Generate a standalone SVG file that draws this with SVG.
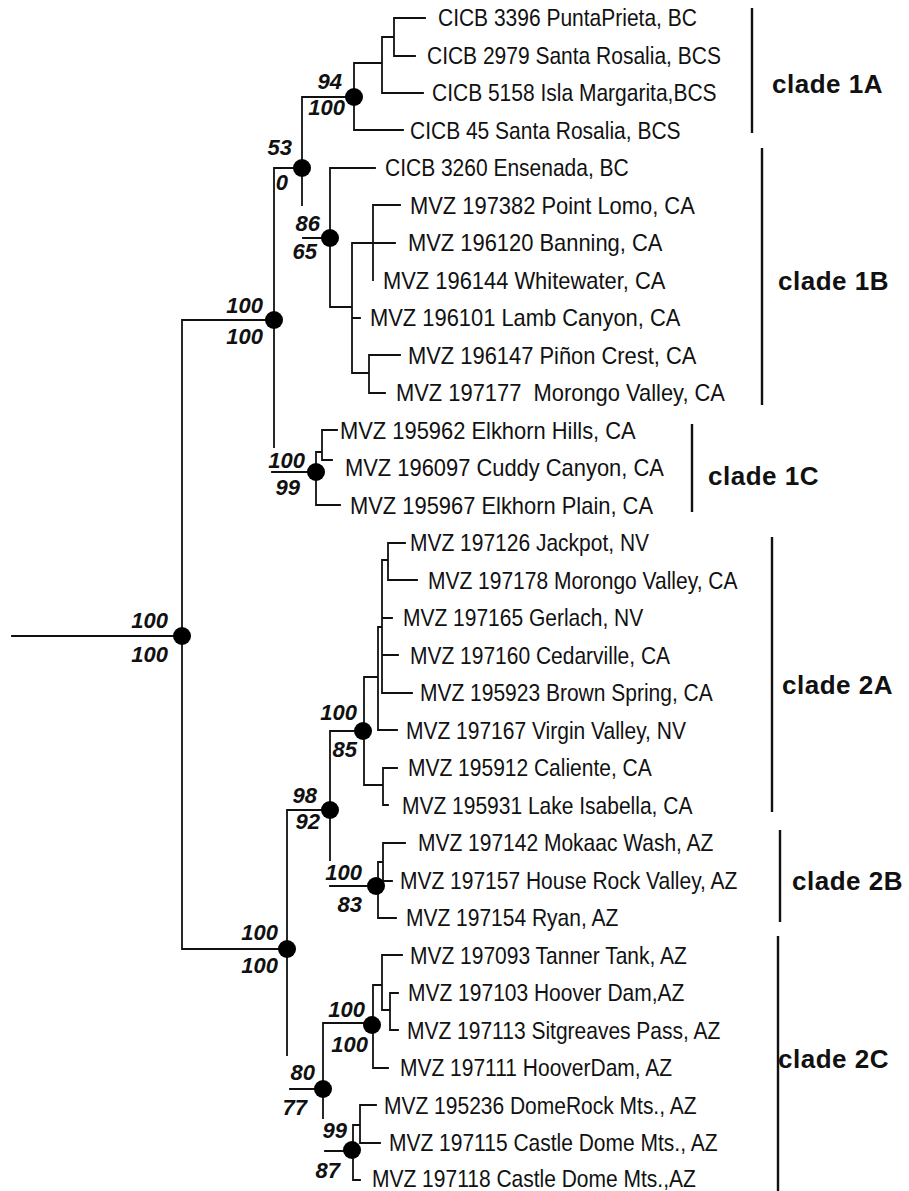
<svg xmlns="http://www.w3.org/2000/svg" width="909" height="1191" viewBox="0 0 909 1191">
<style>
.br{fill:none;stroke:#111;stroke-width:1.8;stroke-linecap:square}
.bar{stroke:#111;stroke-width:2.4}
.tx{font-family:"Liberation Sans",Arial,sans-serif;font-size:24px;fill:#111}
.bs{font-family:"Liberation Sans",Arial,sans-serif;font-size:22px;font-weight:bold;font-style:italic;fill:#111;text-anchor:end}
.cl{font-family:"Liberation Sans",Arial,sans-serif;font-size:26px;font-weight:bold;letter-spacing:0.5px;fill:#111}
.dot{fill:#000}
</style>
<rect width="909" height="1191" fill="#fff"/>
<g id="connectors">
<path class="br" d="M12 636H182 M182 320V949 M182 320H274 M182 949H287
M274 168V447 M274 168H302 M272 472H316
M302 97V205 M302 97H354
M354 63V130 M354 130H403 M354 63H382 M382 37V93 M382 93H423 M382 37H394 M394 18V56 M394 18H425 M394 56H415
M303 238H330 M330 168V307 M330 168H375 M330 307H352 M352 243V373 M352 243H395 M373 205V280 M373 205H400 M352 318H360 M352 373H369 M369 355V393 M369 355H400 M369 393H385
M316 452V505 M316 452H322 M322 430V460 M322 430H337 M322 460H332 M316 505H340
M287 810V1055 M288 810H330
M330 731V860 M330 731H363 M330 886H376
M364 677V785 M364 677H378 M378 627V730 M378 730H397 M378 627H382 M382 560V693 M382 560H388 M382 618H392 M382 655H398 M382 693H412 M388 543V580 M388 543H405 M388 580H417 M364 785H383 M383 768V805 M383 768H397 M383 805H388
M378 862V918 M378 862H383 M383 843V881 M383 843H405 M383 881H392 M378 918H396
M290 1089H323 M323 1023V1118 M323 1023H372
M373 985V1068 M373 1068H388 M373 985H382 M382 955V1010 M382 955H402 M382 1010H390 M390 993V1030 M390 993H398 M390 1030H398
M325 1151H352 M353 1125V1180 M353 1180H360 M353 1125H360 M360 1105V1143 M360 1105H376 M360 1143H380"/>
<path class="bar" d="M752 8V133 M762 148V405 M692 424V512 M772 537V812 M780 830V922 M778 936V1191"/>
</g>
<g id="n-root"><circle class="dot" cx="182" cy="636" r="9"/><text class="bs" x="168" y="628">100</text><text class="bs" x="168" y="662">100</text></g>
<g id="n-clade1"><circle class="dot" cx="274" cy="320" r="9"/><text class="bs" x="263" y="313">100</text><text class="bs" x="263" y="344">100</text></g>
<g id="n-clade2"><circle class="dot" cx="287" cy="949" r="9"/><text class="bs" x="278" y="940">100</text><text class="bs" x="278" y="973">100</text></g>
<g id="n-53"><circle class="dot" cx="302" cy="168" r="9"/><text class="bs" x="292" y="155">53</text><text class="bs" x="288" y="190">0</text></g>
<g id="n-1A"><circle class="dot" cx="354" cy="97" r="9"/><text class="bs" x="342" y="89">94</text><text class="bs" x="345" y="115">100</text></g>
<g id="n-1B"><circle class="dot" cx="330" cy="238" r="9"/><text class="bs" x="320" y="231">86</text><text class="bs" x="317" y="259">65</text></g>
<g id="n-1C"><circle class="dot" cx="316" cy="472" r="9"/><text class="bs" x="305" y="468">100</text><text class="bs" x="300" y="495">99</text></g>
<g id="n-98"><circle class="dot" cx="330" cy="810" r="9"/><text class="bs" x="317" y="803">98</text><text class="bs" x="320" y="829">92</text></g>
<g id="n-2A"><circle class="dot" cx="363" cy="731" r="9"/><text class="bs" x="357" y="720">100</text><text class="bs" x="357" y="757">85</text></g>
<g id="n-2B"><circle class="dot" cx="376" cy="886" r="9"/><text class="bs" x="362" y="880">100</text><text class="bs" x="362" y="912">83</text></g>
<g id="n-2C"><circle class="dot" cx="323" cy="1089" r="9"/><text class="bs" x="315" y="1080">80</text><text class="bs" x="307" y="1115">77</text></g>
<g id="n-2C1"><circle class="dot" cx="372" cy="1025" r="9"/><text class="bs" x="365" y="1017">100</text><text class="bs" x="368" y="1052">100</text></g>
<g id="n-2C2"><circle class="dot" cx="352" cy="1150" r="9"/><text class="bs" x="347" y="1138">99</text><text class="bs" x="340" y="1178">87</text></g>
<g id="leaves-cicb" transform="scale(0.875 1)">
<text class="tx" x="500.57" y="26.5">CICB 3396 PuntaPrieta, BC</text>
<text class="tx" x="488" y="64">CICB 2979 Santa Rosalia, BCS</text>
<text class="tx" x="493.71" y="101.5">CICB 5158 Isla Margarita,BCS</text>
<text class="tx" x="468.57" y="139">CICB 45 Santa Rosalia, BCS</text>
<text class="tx" x="440" y="176.5">CICB 3260 Ensenada, BC</text>
</g>
<g id="leaves-1B1C" transform="scale(0.9125 1)">
<text class="tx" x="449.32" y="214">MVZ 197382 Point Lomo, CA</text>
<text class="tx" x="447.12" y="251.5">MVZ 196120 Banning, CA</text>
<text class="tx" x="419.73" y="289">MVZ 196144 Whitewater, CA</text>
<text class="tx" x="405.48" y="326.5">MVZ 196101 Lamb Canyon, CA</text>
<text class="tx" x="447.12" y="364">MVZ 196147 Piñon Crest, CA</text>
<text class="tx" x="433.97" y="401.5">MVZ 197177 &#160;Morongo Valley, CA</text>
<text class="tx" x="372.6" y="439">MVZ 195962 Elkhorn Hills, CA</text>
<text class="tx" x="378.08" y="476.5">MVZ 196097 Cuddy Canyon, CA</text>
<text class="tx" x="383.56" y="514">MVZ 195967 Elkhorn Plain, CA</text>
</g>
<g id="leaves-2" transform="scale(0.875 1)">
<text class="tx" x="468.57" y="551.5">MVZ 197126 Jackpot, NV</text>
<text class="tx" x="489.14" y="589">MVZ 197178 Morongo Valley, CA</text>
<text class="tx" x="460.57" y="626.5">MVZ 197165 Gerlach, NV</text>
<text class="tx" x="468.57" y="664">MVZ 197160 Cedarville, CA</text>
<text class="tx" x="480" y="701.5">MVZ 195923 Brown Spring, CA</text>
<text class="tx" x="464" y="739">MVZ 197167 Virgin Valley, NV</text>
<text class="tx" x="466.29" y="776.5">MVZ 195912 Caliente, CA</text>
<text class="tx" x="459.43" y="814">MVZ 195931 Lake Isabella, CA</text>
<text class="tx" x="477.71" y="851.5">MVZ 197142 Mokaac Wash, AZ</text>
<text class="tx" x="457.14" y="889">MVZ 197157 House Rock Valley, AZ</text>
<text class="tx" x="464" y="926.5">MVZ 197154 Ryan, AZ</text>
<text class="tx" x="468.57" y="964">MVZ 197093 Tanner Tank, AZ</text>
<text class="tx" x="466.29" y="1001.5">MVZ 197103 Hoover Dam,AZ</text>
<text class="tx" x="465.14" y="1039">MVZ 197113 Sitgreaves Pass, AZ</text>
<text class="tx" x="457.14" y="1076.5">MVZ 197111 HooverDam, AZ</text>
<text class="tx" x="438.86" y="1114">MVZ 195236 DomeRock Mts., AZ</text>
<text class="tx" x="444.57" y="1151.5">MVZ 197115 Castle Dome Mts., AZ</text>
<text class="tx" x="425.14" y="1187">MVZ 197118 Castle Dome Mts.,AZ</text>
</g>
<g id="clade-labels">
<text class="cl" x="772" y="93">clade 1A</text>
<text class="cl" x="778" y="290">clade 1B</text>
<text class="cl" x="708" y="485">clade 1C</text>
<text class="cl" x="782" y="694">clade 2A</text>
<text class="cl" x="792" y="890">clade 2B</text>
<text class="cl" x="778" y="1068">clade 2C</text>
</g>
</svg>
